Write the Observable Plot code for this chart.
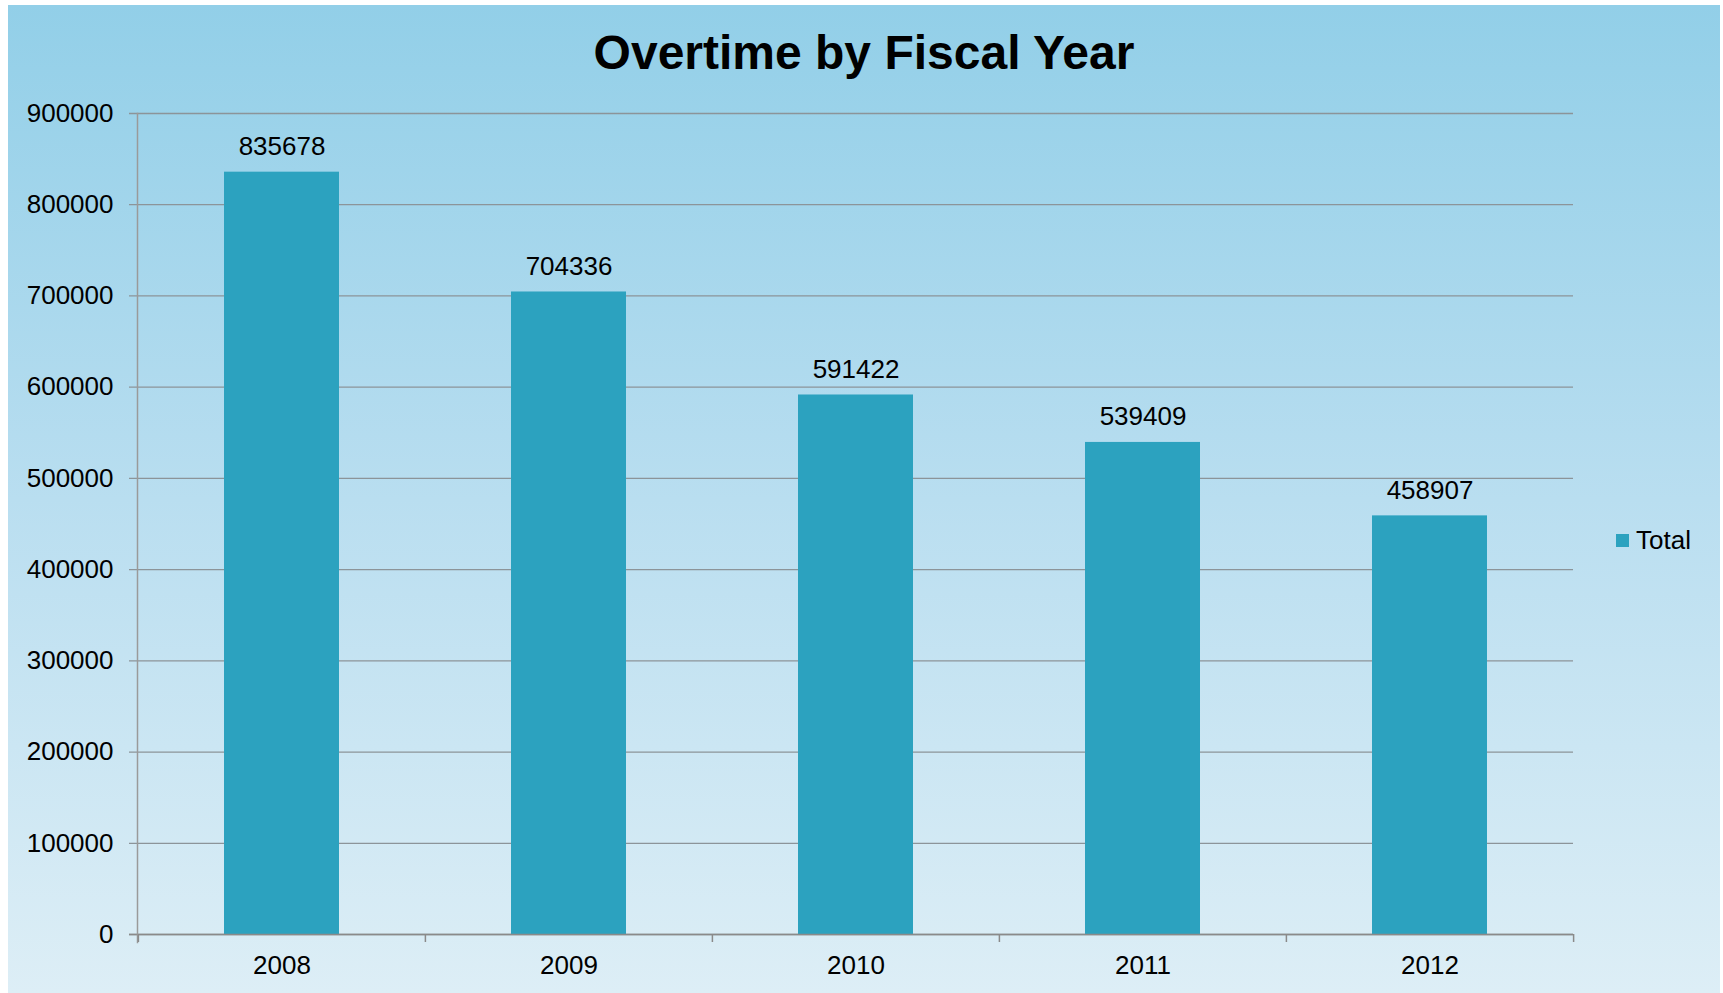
<!DOCTYPE html>
<html>
<head>
<meta charset="utf-8">
<script src="https://cdn.jsdelivr.net/npm/d3@7"></script>
<script src="https://cdn.jsdelivr.net/npm/@observablehq/plot@0.6"></script>
<style>
  html, body { margin: 0; background: #ffffff; }
  #panel {
    position: absolute; left: 8px; top: 5px; width: 1712px; height: 988px;
    background: linear-gradient(#92cfe8 0%, #b9def0 50%, #ddeef6 100%);
    font-family: "Liberation Sans", Arial, sans-serif; color: #000;
    overflow: hidden;
  }
  #title {
    height: 66px; padding-top: 24px; line-height: 48px;
    font-size: 48px; font-weight: bold; text-align: center;
  }
  #legend {
    position: absolute; left: 1608px; top: 522px; height: 26px;
    display: flex; align-items: center; font-size: 26px; line-height: 26px;
  }
  #legend .swatch { width: 13px; height: 13px; background: #2ca2bf; margin-right: 7px; }
</style>
</head>
<body>
<div id="panel">
  <div id="title">Overtime by Fiscal Year</div>
  <div id="chart"></div>
  <div id="legend"><span class="swatch"></span><span>Total</span></div>
</div>
<script>
// Overtime totals per fiscal year
const years = ["2008", "2009", "2010", "2011", "2012"];
const totals = [835678, 704336, 591422, 539409, 458907];
const yTicks = [0, 100000, 200000, 300000, 400000, 500000, 600000, 700000, 800000, 900000];

const data = years.map((year, i) => ({year, total: totals[i]}));

const width = 1712, height = 898;
const marginLeft = 129, marginRight = 147, marginTop = 18, marginBottom = 59;
// one category step; the band scale uses inner 0.6 / outer 0.3 padding so step = range / n
const step = (width - marginLeft - marginRight) / years.length;

const barColor = "#2ca2bf";
const gridColor = "#8c9499";

const chart = Plot.plot({
  width, height, marginLeft, marginRight, marginTop, marginBottom,
  style: {background: "transparent", fontFamily: "'Liberation Sans', Arial, sans-serif", fontSize: "26px", color: "#000", overflow: "visible"},
  x: {domain: years, paddingInner: 0.6, paddingOuter: 0.3, label: null},
  y: {domain: [0, 900000], label: null},
  marks: [
    // horizontal gridlines, with a short tick poking out left of the axis
    Plot.ruleY(yTicks, {y: d => d, stroke: gridColor, strokeWidth: 1.3, insetLeft: -8}),
    Plot.barY(data, {x: "year", y: "total", fill: barColor}),
    // value labels above each bar
    Plot.text(data, {x: "year", y: "total", text: d => String(d.total), lineAnchor: "bottom", dy: -17, fontSize: 26, fill: "#000"}),
    // baseline
    Plot.ruleY([0], {stroke: "#8a8a8a", strokeWidth: 1.5, insetLeft: -8}),
    // vertical axis line
    Plot.frame({anchor: "left", stroke: "#9a9a9a", strokeWidth: 1.5, insetBottom: -8}),
    // category boundary ticks below the baseline
    Plot.ruleX(years, {x: d => d, dx: -step / 2, y1: 0, y2: 0, insetBottom: -8, stroke: "#8a8a8a", strokeWidth: 1.5}),
    Plot.ruleX(years.slice(-1), {x: d => d, dx: step / 2, y1: 0, y2: 0, insetBottom: -8, stroke: "#8a8a8a", strokeWidth: 1.5}),
    Plot.axisY({ticks: yTicks, tickSize: 0, tickPadding: 24, tickFormat: d3.format("d"), fontSize: 26}),
    Plot.axisX({tickSize: 0, tickPadding: 21, fontSize: 26})
  ]
});
document.getElementById("chart").appendChild(chart);
</script>
</body>
</html>
